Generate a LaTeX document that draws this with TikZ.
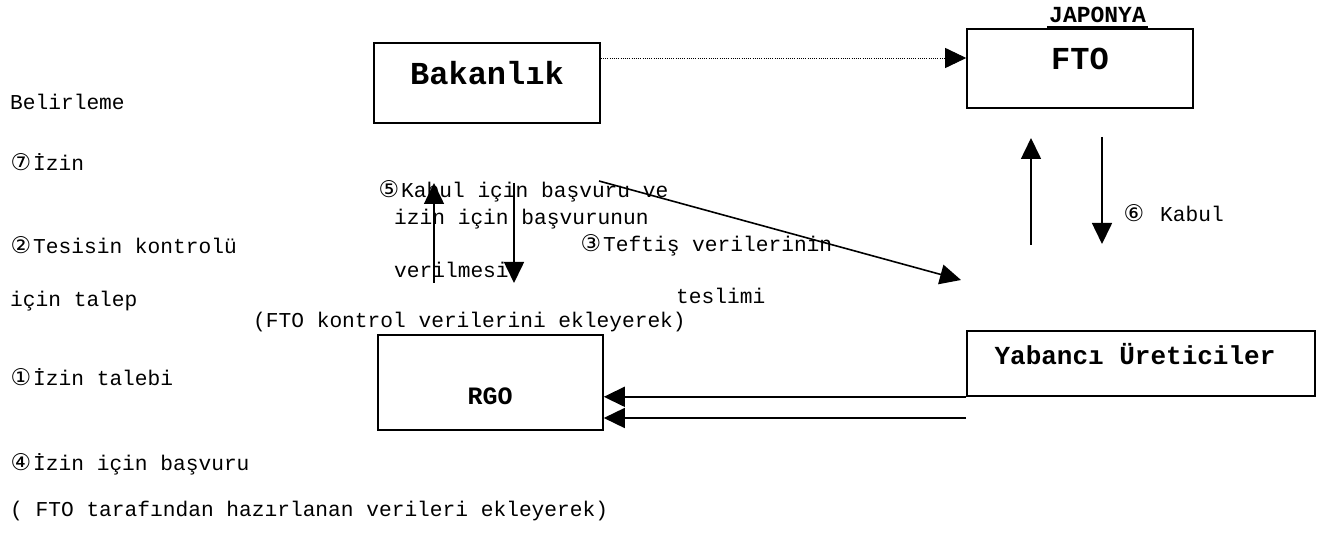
\documentclass[tikz,border=0pt]{standalone}
\usepackage{fontspec}
\setmainfont{Liberation Mono}
\newfontfamily\symfont{DejaVu Sans}
\usetikzlibrary{arrows.meta}
\newcommand\circd[1]{\makebox[23pt][l]{\hspace{0.5pt}\symfont\fontsize{23}{26}\selectfont #1}}
\begin{document}
\begin{tikzpicture}[x=1pt,y=-1pt,
  boxshape/.style={draw,line width=1.6pt,inner sep=0pt},
  lbl/.style={anchor=west,inner sep=0pt,text height=15pt,text depth=4pt,font=\fontsize{21.2}{25}\selectfont},
  bigtitle/.style={inner sep=0pt,font=\fontsize{32}{36}\selectfont\bfseries},
  arr/.style={line width=1.6pt,-{Triangle[length=21pt,width=20pt]}},
  dotarr/.style={line width=0.9pt,dash pattern=on 1pt off 1.2pt,-{Triangle[length=21pt,width=20pt]}}]
\useasboundingbox (0,0) rectangle (1332,534);
% boxes
\node[boxshape,minimum width=226pt,minimum height=80pt] (bak) at (487,83) {};
\node[bigtitle] (bakt) at (487,73) {Bakanlık};
\node[boxshape,minimum width=226pt,minimum height=79pt] (fto) at (1080,68.5) {};
\node[bigtitle] (ftot) at (1080,59) {FTO};
\node[inner sep=0pt,font=\fontsize{23}{26}\selectfont\bfseries] (jap) at (1097.5,15) {JAPONYA};
\draw[line width=2.4pt] (1047,27) -- (1148,27);
\node[boxshape,minimum width=225pt,minimum height=95pt] (rgo) at (490.5,382.5) {};
\node[inner sep=0pt,font=\fontsize{25}{28}\selectfont\bfseries] (rgot) at (490,396) {RGO};
\node[boxshape,minimum width=348pt,minimum height=65pt] (yab) at (1141,363.5) {};
\node[inner sep=0pt,font=\fontsize{26}{30}\selectfont\bfseries] (yabt) at (1135,354) {Yabancı Üreticiler};
% left labels
\node[lbl] (l1) at (10,104) {Belirleme};
\node[lbl] (l2) at (10,165) {\circd{⑦}İzin};
\node[lbl] (l3) at (10,248) {\circd{②}Tesisin kontrolü};
\node[lbl] (l4) at (10,301) {için talep};
\node[lbl] (l5) at (10,380) {\circd{①}İzin talebi};
\node[lbl] (l6) at (10,465) {\circd{④}İzin için başvuru};
\node[lbl] (l7) at (10,511) {( FTO tarafından hazırlanan verileri ekleyerek)};
% middle labels
\node[lbl] (m1) at (378,192) {\circd{⑤}Kabul için başvuru ve};
\node[lbl] (m2) at (394,219) {izin için başvurunun};
\node[lbl] (m3) at (394,272) {verilmesi};
\node[lbl] (m4) at (580,246) {\circd{③}Teftiş verilerinin};
\node[lbl] (m5) at (676,298) {teslimi};
\node[lbl] (m6) at (253,322) {(FTO kontrol verilerini ekleyerek)};
\node[lbl] (k6) at (1123,216) {\circd{⑥}\hspace{14pt}Kabul};
% connectors
\coordinate (d1) at (bak.east |- 0,58);
\draw[dotarr] (d1) -- (fto.west |- d1);
\coordinate (u1a) at (434,283); \coordinate (u1b) at (434,183);
\draw[arr] (u1a) -- (u1b);
\coordinate (d2a) at (514,183); \coordinate (d2b) at (514,283);
\draw[arr] (d2a) -- (d2b);
\coordinate (g1) at (599,181); \coordinate (g2) at (961,280);
\draw[arr] (g1) -- (g2);
\coordinate (f1) at (1031,245); \coordinate (f2) at (1031,138);
\draw[arr] (f1) -- (f2);
\coordinate (f3) at (1102,137); \coordinate (f4) at (1102,244);
\draw[arr] (f3) -- (f4);
\draw[arr] (yab.south west) -- (rgo.east |- yab.south west);
\coordinate (y2) at (yab.west |- 0,418);
\draw[arr] (y2) -- (rgo.east |- y2);
\end{tikzpicture}
\end{document}
